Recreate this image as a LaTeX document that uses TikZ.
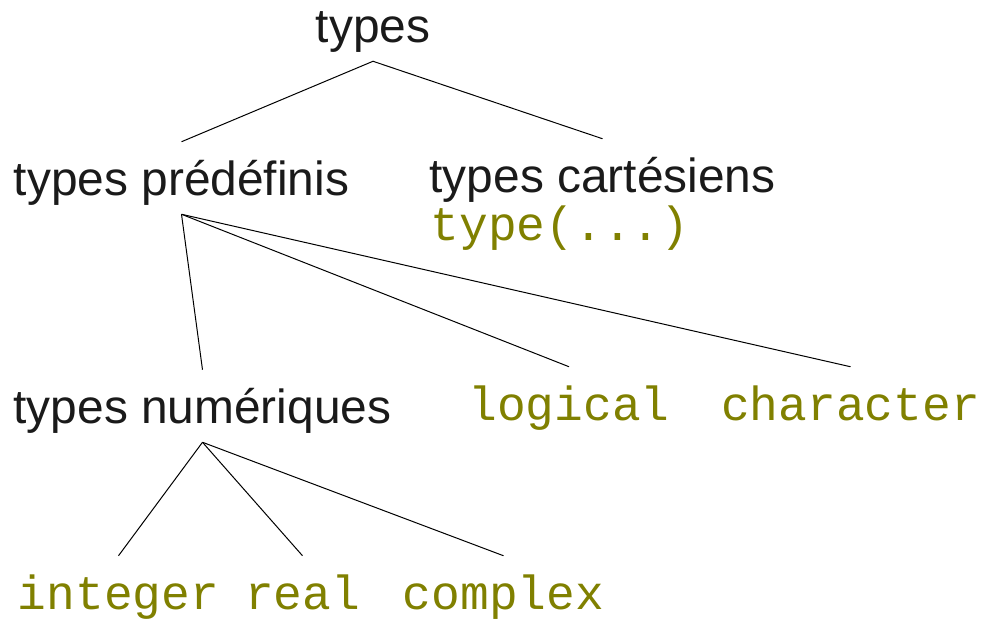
\documentclass[tikz,border=0pt]{standalone}
\usepackage{fontspec}
\setmainfont{Liberation Sans}
\newfontfamily\codefont{Liberation Mono}
\definecolor{codeol}{HTML}{808000}
\definecolor{txt}{HTML}{1A1A1A}
\begin{document}
\begin{tikzpicture}[x=0.75pt,y=-0.75pt,
  lbl/.style={anchor=base, inner xsep=0pt, inner ysep=5.25pt, text height=34.5pt, text depth=9pt,
    font=\fontsize{35.9}{40}\selectfont, text=txt},
  code/.style={lbl, font=\fontsize{35.9}{40}\selectfont\codefont, text=codeol},
  edge/.style={draw=black, line width=0.75pt}]
\useasboundingbox (0,0) rectangle (982,618);
\node[lbl] (types) at (373,42) {types};
\node[lbl] (pre) at (181.5,195) {types prédéfinis};
\node[lbl] (cart) at (602.5,192) {types cartésiens};
\node[code] (tcall) at (560,240) {type(...)};
\node[lbl] (num) at (202.5,423) {types numériques};
\node[code] (logi) at (569,420) {logical};
\node[code] (char) at (850.5,420) {character};
\node[code] (int) at (118.5,609) {integer};
\node[code] (real) at (302.5,609) {real};
\node[code] (cplx) at (503.5,609) {complex};
\draw[edge] (pre.north) -- (types.south) -- (cart.north);
\draw[edge] (pre.south) -- (num.north);
\draw[edge] (pre.south) -- (logi.north);
\draw[edge] (pre.south) -- (char.north);
\draw[edge] (num.south) -- (int.north);
\draw[edge] (num.south) -- (real.north);
\draw[edge] (num.south) -- (cplx.north);
\end{tikzpicture}
\end{document}
